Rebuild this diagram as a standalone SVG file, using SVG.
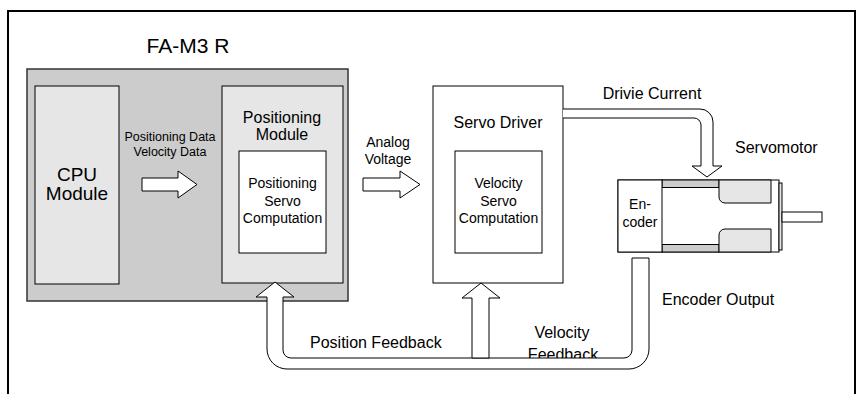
<svg xmlns="http://www.w3.org/2000/svg" width="859" height="394" viewBox="0 0 859 394">
  <style>
    text { font-family: "Liberation Sans", Arial, sans-serif; fill: #000; }
    .box { stroke: #000; stroke-width: 1; }
    .white { fill: #fff; }
    .light { fill: #e6e6e6; }
    .mid { fill: #cccccc; }
    .arrow { fill: #fff; stroke: #000; stroke-width: 1; stroke-linejoin: miter; }
    .c { text-anchor: middle; }
    .s12 { font-size: 12.5px; }
    .s14 { font-size: 14px; }
    .s16 { font-size: 16px; }
  </style>

  <!-- outer frame (open at the bottom) -->
  <path d="M8,394 V11 H855 V394" fill="none" stroke="#000" stroke-width="2"/>

  <!-- FA-M3 R controller -->
  <g id="fa-m3r">
    <text x="188" y="53" class="c" style="font-size:21px">FA-M3 R</text>
    <rect x="27" y="69" width="321" height="232" class="mid" stroke="#333" stroke-width="1.5"/>
  </g>

  <g id="cpu-module">
    <rect x="35" y="86" width="84" height="198" class="box light"/>
    <text x="77" y="181" class="c" style="font-size:19px">CPU</text>
    <text x="77" y="200" class="c" style="font-size:19px">Module</text>
  </g>

  <g id="positioning-module">
    <rect x="222" y="86" width="121" height="197" class="box light"/>
    <text x="282" y="123" class="c s16">Positioning</text>
    <text x="282" y="140" class="c s16">Module</text>
    <rect x="239" y="151" width="87" height="102" class="box white"/>
    <text x="282.5" y="188" class="c s14">Positioning</text>
    <text x="282.5" y="206" class="c s14">Servo</text>
    <text x="282.5" y="223" class="c s14">Computation</text>
  </g>

  <g id="servo-driver">
    <rect x="433" y="86" width="130" height="197" class="box white"/>
    <text x="498" y="128" class="c s16">Servo Driver</text>
    <rect x="455" y="151" width="87" height="102" class="box white"/>
    <text x="498.5" y="188" class="c s14">Velocity</text>
    <text x="498.5" y="206" class="c s14">Servo</text>
    <text x="498.5" y="223" class="c s14">Computation</text>
  </g>

  <g id="servomotor">
    <text x="735" y="153" class="s16">Servomotor</text>
    <!-- body -->
    <rect x="618" y="180" width="161" height="72" class="box white"/>
    <rect x="662" y="180" width="57" height="7.5" class="box mid"/>
    <rect x="662" y="244.5" width="57" height="7.5" class="box mid"/>
    <path d="M719,180 H771 V203 H725 A6,6 0 0 1 719,197 Z" class="box light"/>
    <path d="M719,252 H771 V229 H725 A6,6 0 0 0 719,235 Z" class="box light"/>
    <!-- flange and shaft -->
    <rect x="779" y="183" width="3" height="67" class="box light"/>
    <rect x="782" y="212" width="40" height="10" class="box white"/>
    <!-- encoder -->
    <rect x="618" y="180" width="44" height="72" class="box white"/>
    <text x="640" y="209" class="c s14">En-</text>
    <text x="640" y="227" class="c s14">coder</text>
  </g>

  <!-- connector labels -->
  <g id="labels">
    <text x="170" y="141" class="c s12">Positioning Data</text>
    <text x="170" y="156" class="c s12">Velocity Data</text>
    <text x="388" y="147" class="c s14">Analog</text>
    <text x="388" y="164" class="c s14">Voltage</text>
    <text x="652" y="99" class="c s16">Drivie Current</text>
    <text x="662" y="305" class="s16">Encoder Output</text>
    <text x="310" y="348" class="s16">Position Feedback</text>
    <text x="562" y="338" class="c s16">Velocity</text>
    <text x="563" y="359.5" class="c s16">Feedback</text>
  </g>

  <!-- block-arrow connectors -->
  <g id="connectors">
    <!-- CPU -> positioning module -->
    <path d="M142,178 H178 V171 L197,184.5 L178,198 V191 H142 Z" class="arrow"/>
    <!-- analog voltage -> servo driver -->
    <path d="M363,178 H400 V171 L420,184.5 L400,198 V191 H363 Z" class="arrow"/>
    <!-- drive current -> motor -->
    <path d="M563,109 H700 A13,13 0 0 1 713,122 V166 H722 L707,177 L692,166 H701 V125 A7,7 0 0 0 694,118 H563" class="arrow"/>
    <!-- encoder output -> position feedback -->
    <path d="M275,282 L294,297 H283 V350 A8,8 0 0 0 291,358 H624 A8,8 0 0 0 632,350 V258 H649 V349 A20,20 0 0 1 629,369 H287 A20,20 0 0 1 267,349 V297 H256 Z" class="arrow"/>
    <!-- velocity feedback branch -->
    <path d="M481,283 L500,298 H489 V358 H472 V298 H462 Z" class="arrow"/>
  </g>
</svg>
